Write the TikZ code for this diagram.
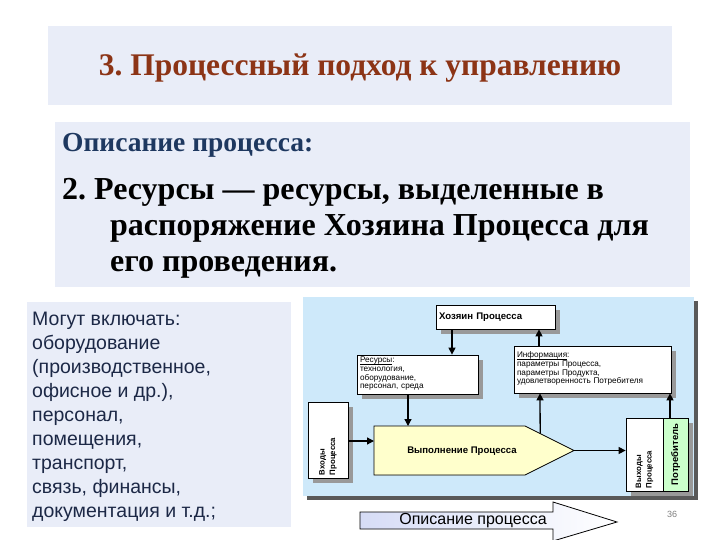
\documentclass[tikz,border=0pt]{standalone}
\usepackage{fontspec}
\setmainfont{Liberation Serif}
\setsansfont{Liberation Sans}
\usepackage{tikz}
\usetikzlibrary{calc}
\usetikzlibrary{positioning,arrows.meta,shadows}
\frenchspacing

\definecolor{slidebg}{RGB}{233,237,248}
\definecolor{panelbg}{RGB}{206,233,250}
\definecolor{titlered}{RGB}{140,52,22}
\definecolor{headblue}{RGB}{30,56,96}
\definecolor{listblue}{RGB}{28,40,70}
\definecolor{procyellow}{RGB}{255,255,204}
\definecolor{consgreen}{RGB}{204,255,204}
\definecolor{arrowblue}{RGB}{214,220,246}

\begin{document}
\begin{tikzpicture}[
        x=1pt,y=-1pt,
        BoxCfg/.style={
            draw,
            fill=white,
            line width=0.8pt,
            inner sep=2pt,
            font=\sffamily\fontsize{8.2}{8.7}\selectfont,
            drop shadow={shadow xshift=5pt,shadow yshift=-5pt,fill=gray!80,opacity=1}
        },
        VertCfg/.style={
            BoxCfg,
            rotate=90,
            align=left,
            font=\sffamily\bfseries\fontsize{7.8}{10.5}\selectfont
        },
        ArrCfg/.style={
            line width=1.3pt,
            -{Triangle[length=7pt,width=7pt]}
        }
    ]

    \useasboundingbox (0,0) rectangle (720,540);
    \fill[white] (0,0) rectangle (720,540);

    %title
    \fill[slidebg] (48,26) rectangle (672,105);
    \node[font=\bfseries\fontsize{31.5}{34}\selectfont,text=titlered](title) at (360,68){3. Процессный подход к управлению};

    %description
    \fill[slidebg] (55,122) rectangle (690,287);
    \node[anchor=west,font=\bfseries\fontsize{27.5}{30}\selectfont,text=headblue,inner sep=0pt](head) at (62,145){Описание процесса:};
    \node[anchor=north west,align=left,font=\bfseries\fontsize{32}{36}\selectfont,inner sep=0pt](item) at (62,178){2. Ресурсы --- ресурсы, выделенные в\\
        \hspace*{48pt}распоряжение Хозяина Процесса для\\
        \hspace*{48pt}его проведения.};

    %list
    \fill[slidebg] (27,302) rectangle (291,527);
    \node[anchor=north west,align=left,font=\sffamily\fontsize{19.5}{24}\selectfont,text=listblue,inner sep=0pt](list) at (32,312){Могут включать:\\ оборудование\\ (производственное,\\ офисное и др.),\\ персонал,\\ помещения,\\ транспорт,\\ связь, финансы,\\ документация и т.д.;};

    %panel
    \fill[gray!70!black] (307,301) rectangle (698,500);
    \fill[panelbg] (303,297) rectangle (694,496);

    %boxes
    \node[BoxCfg,minimum width=119pt,minimum height=24pt,text width=113pt,align=left,font=\sffamily\bfseries\fontsize{9.6}{10}\selectfont](owner) at (495.5,317){Хозяин Процесса};
    \node[BoxCfg,minimum width=121pt,minimum height=39pt,text width=115pt,align=left](res) at (417.5,374.5){\underline{\smash{Ресурсы}}:\\ технология,\\ оборудование,\\ персонал, среда};
    \node[BoxCfg,minimum width=157pt,minimum height=47pt,text width=151pt,align=left](info) at (592.5,369.5){\underline{\smash{Информация}}:\\ параметры Процесса,\\ параметры Продукта,\\ удовлетворенность Потребителя\\[7pt]};
    \node[VertCfg,minimum width=76pt,minimum height=40pt,text width=70pt](inputs) at (328,440){Входы\\ Процесса};
    \node[VertCfg,minimum width=73pt,minimum height=37pt,text width=67pt,drop shadow={opacity=0}](outputs) at (644.5,454.5){Выходы\\ Процесса};
    \node[VertCfg,fill=consgreen,minimum width=73pt,minimum height=25pt,text width=,align=center,font=\sffamily\bfseries\fontsize{9.5}{10}\selectfont](cons) at (675.5,454.5){Потребитель};

    %process
    \coordinate (pa) at (374,426);
    \coordinate (pb) at (525,426);
    \coordinate (tip) at (574,450.5);
    \coordinate (pc) at (525,475);
    \coordinate (pd) at (374,475);
    \fill[gray!80,shift={(5,5)}] (pa)--(pb)--(tip)--(pc)--(pd)--cycle;
    \draw[fill=procyellow,line width=0.8pt] (pa)--(pb)--(tip)--(pc)--(pd)--cycle;
    \node[font=\sffamily\bfseries\fontsize{9.6}{10}\selectfont](proc) at (462,451){Выполнение Процесса};

    %connections
    \draw[ArrCfg] (owner.south -| 452,0)--(res.north -| 452,0);
    \draw[ArrCfg] (res.south -| 408,0)--(pa -| 408,0);
    \draw[ArrCfg] (inputs.south |- 0,441)--(pa |- 0,441);
    \draw[ArrCfg] ($(pb)!0.31!(tip)$)--(info.south -| 540,0);
    \draw[ArrCfg] (info.north -| 539,0)--(owner.south -| 539,0);
    \draw[ArrCfg] (tip)--(outputs.north |- tip);
    \draw[ArrCfg] (cons.east -| 670,0)--(info.south -| 670,0);

    %description arrow
    \coordinate (da) at (360,512);
    \coordinate (db) at (553,512);
    \coordinate (dc) at (553,502);
    \coordinate (dtip) at (617,522);
    \coordinate (dd) at (553,541);
    \coordinate (de) at (553,529);
    \coordinate (df) at (360,529);
    \draw[left color=arrowblue,right color=white,line width=0.8pt] (da)--(db)--(dc)--(dtip)--(dd)--(de)--(df)--cycle;
    \node[font=\sffamily\fontsize{16}{18}\selectfont](descr) at (473,521){Описание процесса};

    \node[font=\sffamily\fontsize{9}{10}\selectfont,text=gray](page) at (672,514){36};

\end{tikzpicture}
\end{document}
